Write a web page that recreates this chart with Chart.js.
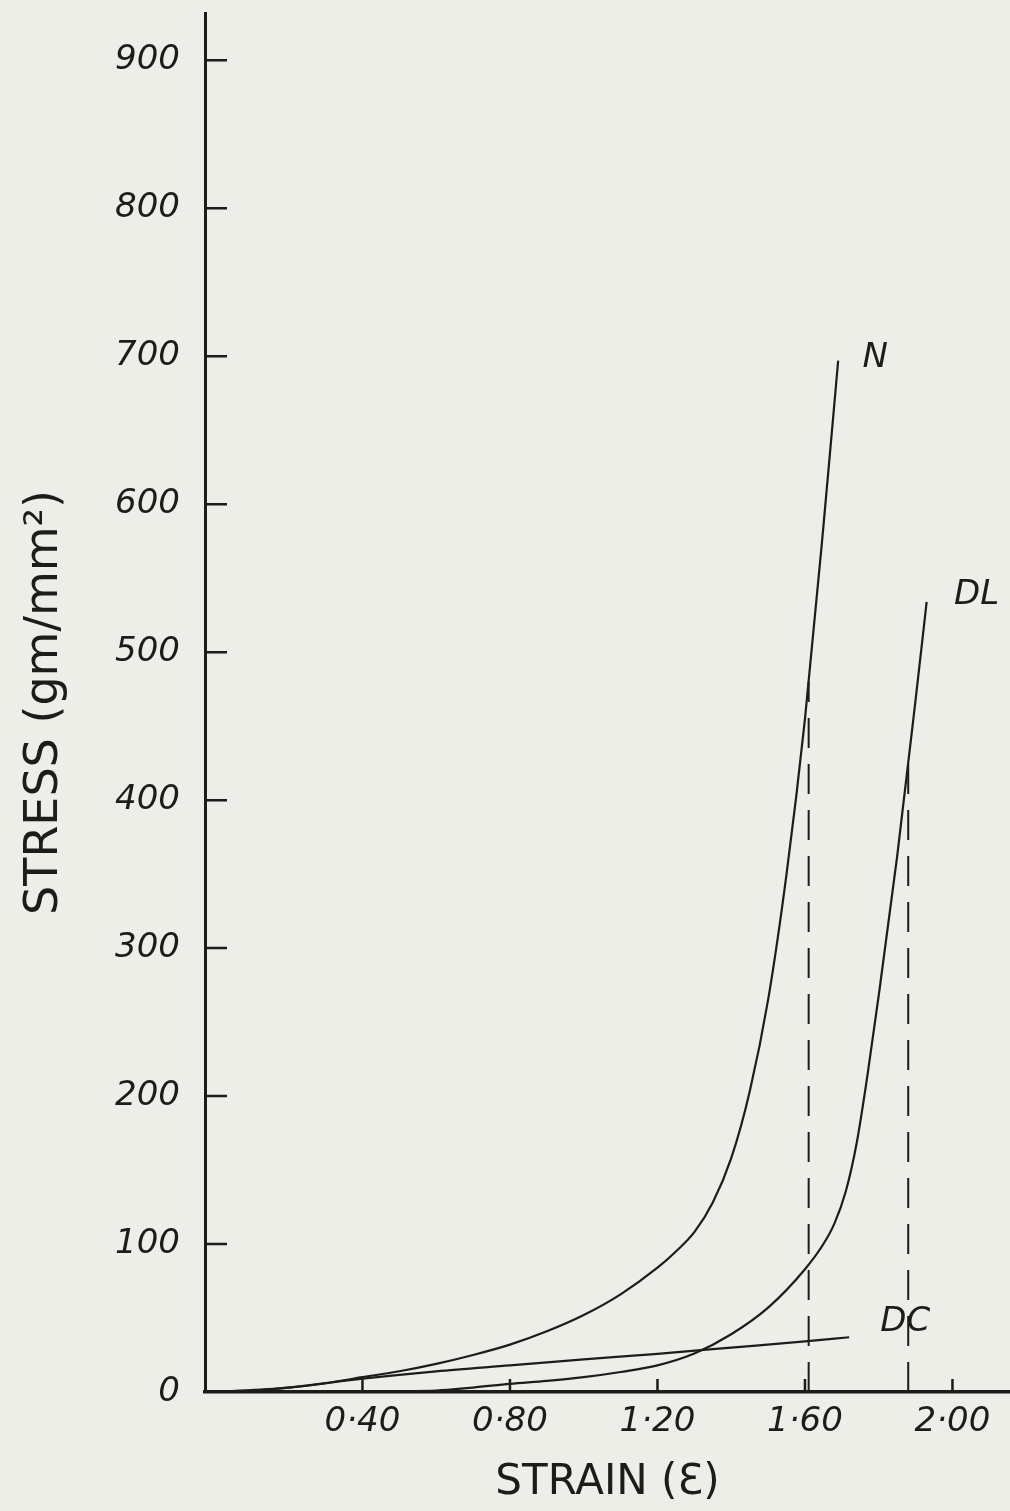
<!DOCTYPE html>
<html lang="en">
<head>
<meta charset="UTF-8">
<title>Stress - Strain</title>
<style>
  body { margin: 0; background: #edeee7; }
  #wrap { width: 1010px; height: 1511px; }
</style>
</head>
<body>
<div id="wrap"><canvas id="stressChart" width="1010" height="1511"></canvas></div>

<script src="https://cdn.jsdelivr.net/npm/chart.js"></script>
<script>
// strain (x) and stress in gm/mm2 (y) for each curve
var strainN  = [0, 0.1, 0.2, 0.3, 0.4, 0.5, 0.6, 0.7, 0.8, 0.9, 1.0, 1.1, 1.2, 1.25, 1.3, 1.35, 1.4, 1.45, 1.5, 1.55, 1.6, 1.65, 1.69];
var stressN  = [0, 1, 3, 6, 10, 14, 19, 25, 32, 41, 52, 66, 84, 95, 108, 128, 158, 203, 265, 350, 455, 585, 697];

var strainDL = [0, 0.2, 0.4, 0.6, 0.7, 0.8, 0.9, 1.0, 1.1, 1.2, 1.3, 1.4, 1.5, 1.6, 1.65, 1.68, 1.71, 1.74, 1.77, 1.8, 1.85, 1.9, 1.93];
var stressDL = [0, 0, 0.5, 1, 3, 5.5, 7.5, 10, 13.5, 18, 26, 39, 57, 83, 100, 114, 135, 168, 215, 268, 362, 468, 534];

var strainDC = [0, 0.2, 0.4, 0.6, 0.8, 1.0, 1.2, 1.4, 1.6, 1.72];
var stressDC = [0, 3, 9, 14, 18, 22, 25.8, 30, 34.2, 37];

// dashed verticals dropped from N and DL
var markStrain = [1.61, 1.88];
var markStress = [480, 425];

var curveNames = ['N', 'DL', 'DC'];
var yTicks = [0, 100, 200, 300, 400, 500, 600, 700, 800, 900];
var xTicks = [0.4, 0.8, 1.2, 1.6, 2.0];

var ink = '#1b1d1b';
var paperColor = '#edeee7';

function toPoints(xs, ys) {
    return xs.map(function (x, i) { return { x: x, y: ys[i] }; });
}

function curve(xs, ys) {
    return {
        data: toPoints(xs, ys),
        borderColor: ink,
        borderWidth: 2.2,
        pointRadius: 0,
        cubicInterpolationMode: 'monotone',
        fill: false
    };
}

function marker(i) {
    return {
        data: [{ x: markStrain[i], y: 0 }, { x: markStrain[i], y: markStress[i] }],
        borderColor: ink,
        borderWidth: 2,
        borderDash: [30, 16],
        pointRadius: 0,
        tension: 0,
        fill: false
    };
}

var paper = {
    id: 'paper',
    beforeDraw: function (chart) {
        var ctx = chart.ctx;
        ctx.save();
        ctx.fillStyle = paperColor;
        ctx.fillRect(0, 0, chart.width, chart.height);
        ctx.restore();
    }
};

// tick marks point into the plot
var innerTicks = {
    id: 'innerTicks',
    afterDraw: function (chart) {
        var ctx = chart.ctx, area = chart.chartArea;
        var xs = chart.scales.x, ys = chart.scales.y;
        ctx.save();
        ctx.strokeStyle = ink;
        ctx.lineWidth = 2.5;
        ctx.beginPath();
        yTicks.forEach(function (v) {
            if (v === 0) return;
            var py = ys.getPixelForValue(v);
            ctx.moveTo(area.left, py);
            ctx.lineTo(area.left + 22, py);
        });
        xTicks.forEach(function (v) {
            var px = xs.getPixelForValue(v);
            ctx.moveTo(px, area.bottom);
            ctx.lineTo(px, area.bottom - 13);
        });
        ctx.stroke();
        ctx.restore();
    }
};

// name written next to the end of each curve
var curveLabels = {
    id: 'curveLabels',
    afterDatasetsDraw: function (chart, args, opts) {
        var ctx = chart.ctx;
        ctx.save();
        ctx.fillStyle = ink;
        ctx.font = 'italic 34px "DejaVu Sans"';
        ctx.textAlign = 'center';
        ctx.textBaseline = 'middle';
        curveNames.forEach(function (name, i) {
            var pts = chart.getDatasetMeta(i).data;
            var last = pts[pts.length - 1];
            var off = opts.offsets[i];
            ctx.fillText(name, last.x + off[0], last.y + off[1]);
        });
        ctx.restore();
    }
};

new Chart('stressChart', {
    type: 'line',
    data: {
        datasets: [
            curve(strainN, stressN),
            curve(strainDL, stressDL),
            curve(strainDC, stressDC),
            marker(0),
            marker(1)
        ]
    },
    options: {
        responsive: false,
        animation: false,
        events: [],
        layout: { padding: { top: 13, left: 0, right: 0, bottom: 0 } },
        plugins: {
            legend: { display: false },
            tooltip: { enabled: false },
            curveLabels: { offsets: [[37, -3], [50, -7], [56, -15]] }
        },
        scales: {
            x: {
                type: 'linear',
                min: -0.027,
                max: 2.156,
                grid: { display: false, drawTicks: false },
                border: { color: ink, width: 3.5 },
                afterBuildTicks: function (scale) {
                    scale.ticks = xTicks.map(function (v) { return { value: v }; });
                },
                afterFit: function (scale) {
                    scale.height = 119;
                    scale.paddingLeft = 0;
                    scale.paddingRight = 0;
                },
                ticks: {
                    autoSkip: false,
                    maxRotation: 0,
                    padding: 10,
                    color: ink,
                    font: { family: 'DejaVu Sans', size: 34, style: 'italic' },
                    callback: function (v) { return v.toFixed(2).replace('.', '\u00b7'); }
                },
                title: {
                    display: true,
                    text: 'STRAIN (\u0190)',
                    color: ink,
                    font: { family: 'DejaVu Sans', size: 42 },
                    padding: { top: 0, bottom: 3 }
                }
            },
            y: {
                type: 'linear',
                min: 0,
                max: 932,
                grid: { display: false, drawTicks: false },
                border: { color: ink, width: 3 },
                afterBuildTicks: function (scale) {
                    scale.ticks = yTicks.map(function (v) { return { value: v }; });
                },
                afterFit: function (scale) {
                    scale.width = 205;
                    scale.paddingTop = 0;
                    scale.paddingBottom = 0;
                },
                ticks: {
                    autoSkip: false,
                    padding: 25,
                    color: ink,
                    font: { family: 'DejaVu Sans', size: 34, style: 'italic' }
                },
                title: {
                    display: true,
                    text: 'STRESS (gm/mm\u00b2)',
                    color: ink,
                    font: { family: 'DejaVu Sans', size: 46 },
                    padding: { top: 17, bottom: 0 }
                }
            }
        }
    },
    plugins: [paper, innerTicks, curveLabels]
});
</script>
</body>
</html>
